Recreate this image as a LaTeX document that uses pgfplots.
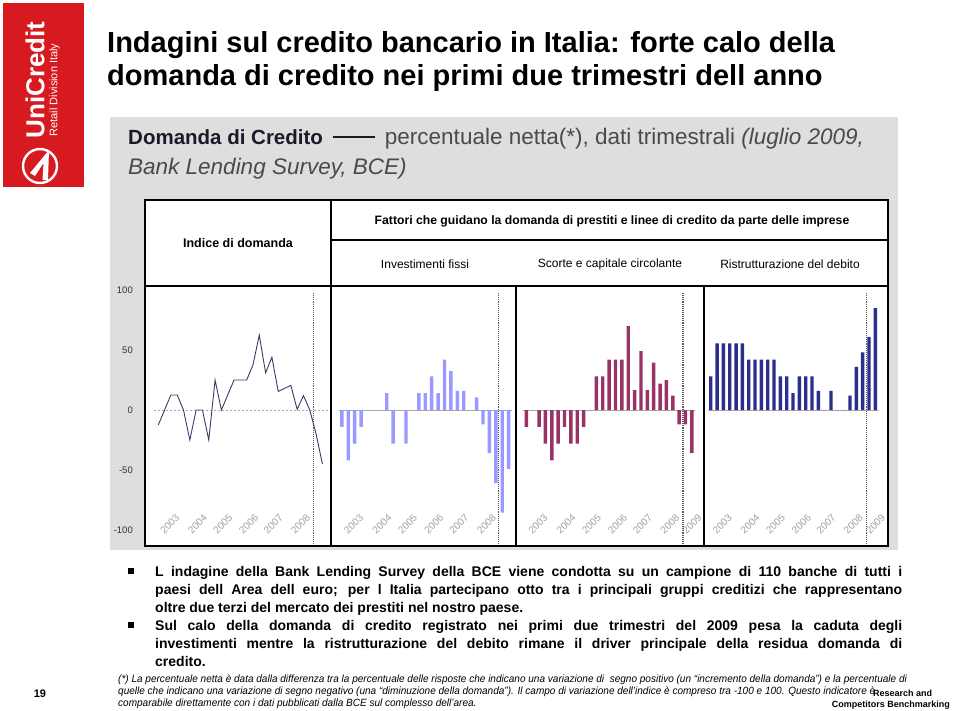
\documentclass[border=0pt]{standalone}
\usepackage{pgfplots}
\pgfplotsset{compat=1.18}
\usepackage{fontspec}
\setmainfont{Liberation Sans}
\usepackage{graphicx}
\definecolor{ucred}{HTML}{D71920}
\definecolor{bgrey}{HTML}{DEDEDE}
\definecolor{lineblue}{HTML}{3B3B6B}
\definecolor{barlight}{HTML}{9999FF}
\definecolor{barmaroon}{HTML}{993366}
\definecolor{barnavy}{HTML}{2B2E8C}
\definecolor{subdark}{HTML}{1A1A2A}
\definecolor{subgrey}{HTML}{4A4A4A}
\definecolor{yeargrey}{HTML}{A0A0A0}
\definecolor{zerogrey}{HTML}{A8A8A8}

\pgfplotsset{
  panel/.style={
    anchor=north west, scale only axis, height=229pt,
    ymin=-87.5, ymax=103.33, clip=false,
    axis line style={draw=none}, tick style={draw=none},
    ytick=\empty,
    xtick={3.2,7.6,11.6,15.7,19.6,23.9,27.4},
    xticklabels={2003,2004,2005,2006,2007,2008,2009},
    xticklabel style={rotate=45, anchor=east, font=\fontsize{10}{12}\selectfont, text=yeargrey, inner sep=1pt},
  },
  bars/.style={ybar, bar width=3.4pt, bar shift=0pt, draw=none, fill=#1},
}

\begin{document}
\begin{tikzpicture}
\path[use as bounding box] (0,0) rectangle (960pt,-710pt);
\begin{scope}[x=1pt,y=-1pt]
  % logo block
  \fill[ucred] (3,3) rectangle (84,187);
  \node[rotate=90, text=white, inner sep=0, font=\fontsize{26}{26}\selectfont\bfseries] at (35,80) {UniCredit};
  \node[rotate=90, text=white, inner sep=0, font=\fontsize{11}{11}\selectfont] at (54.5,90) {Retail Division Italy};
  \draw[white, line width=2.4pt] (40,166) circle (17);
  \fill[white] (30,173) -- (49,150) -- (48,180) -- (42.5,180) -- (43.5,163) -- (35,176) -- cycle;
  % title
  \node[anchor=base west, inner sep=0, font=\fontsize{29}{33}\selectfont\bfseries] at (107,52) {Indagini sul credito bancario in Italia: forte calo della};
  \node[anchor=base west, inner sep=0, font=\fontsize{29}{33}\selectfont\bfseries] at (107,85) {domanda di credito nei primi due trimestri dell anno};
  % grey background
  \fill[bgrey] (110,117) rectangle (898,550);
  \node[anchor=base west, inner sep=0, text=subdark] at (128,144)
    {\fontsize{20.5}{24}\selectfont{\bfseries Domanda di Credito}\hspace{10pt}\rule[0.3em]{42pt}{1.8pt}\hspace{10pt}\fontsize{22.5}{26}\selectfont\textcolor{subgrey}{percentuale netta(*), dati trimestrali \textit{(luglio 2009,}}};
  \node[anchor=base west, inner sep=0, font=\fontsize{22.5}{26}\selectfont\itshape, text=subgrey] at (128,174) {Bank Lending Survey, BCE)};
  % white table box
  \fill[white] (145,200) rectangle (888,546);
  % header texts
  \node[font=\fontsize{12.5}{14}\selectfont\bfseries] at (238,243) {Indice di domanda};
  \node[font=\fontsize{12.2}{14}\selectfont\bfseries] at (612,221) {Fattori che guidano la domanda di prestiti e linee di credito da parte delle imprese};
  \node[font=\fontsize{12}{14}\selectfont] at (425,264) {Investimenti fissi};
  \node[font=\fontsize{12}{14}\selectfont] at (610,264) {Scorte e capitale circolante};
  \node[font=\fontsize{12}{14}\selectfont] at (790,264) {Ristrutturazione del debito};
  % y labels
  \foreach \v/\yy in {100/290,50/350,0/410,-50/470,-100/530}
    \node[anchor=east, inner sep=0, font=\fontsize{9.5}{11}\selectfont, text=black!80] at (133,\yy) {\v};
\end{scope}

% ---------- panel 1: line
\begin{axis}[panel, at={(145pt,-286pt)}, width=186pt, xmin=-2.1, xmax=27.36]
  \draw[zerogrey, line width=0.7pt, dash pattern=on 2pt off 2pt] (axis cs:-0.6,0) -- (axis cs:27.36,0);
  \addplot[lineblue, line width=0.9pt, mark=none] coordinates {
    (0,-12.5) (1,0) (2,12.5) (3,12.5) (4,0) (5,-25) (6,0) (7,0) (8,-25) (9,25)
    (10,0) (11,12.5) (12,25) (13,25) (14,25) (15,37.5) (16,62.5) (17,31) (18,44) (19,15.5)
    (20,18) (21,20.5) (22,0.5) (23,12) (24,0) (25,-20) (26,-45)};
  \draw[black!65, line width=1.1pt, densely dotted] (axis cs:24.55,97.5) -- (axis cs:24.55,-112);
\end{axis}

% ---------- panel 2
\begin{axis}[panel, at={(331pt,-286pt)}, width=185pt, xmin=-1.69, xmax=27.14]
  \draw[zerogrey, line width=0.7pt] (axis cs:-0.5,0) -- (axis cs:26.5,0);
  \addplot[bars=barlight] coordinates {
    (0,-14) (1,-42) (2,-28) (3,-14) (4,0) (5,0) (6,0) (7,14) (8,-28) (9,0)
    (10,-28) (11,0) (12,14) (13,14) (14,28) (15,14) (16,42) (17,32.5) (18,16) (19,16)
    (20,0) (21,10.5) (22,-12) (23,-36) (24,-61) (25,-85.5) (26,-49)};
  \draw[black!65, line width=1.1pt, densely dotted] (axis cs:24.45,97.5) -- (axis cs:24.45,-112);
\end{axis}

% ---------- panel 3
\begin{axis}[panel, at={(516pt,-286pt)}, width=188pt, xmin=-1.62, xmax=27.9]
  \draw[zerogrey, line width=0.7pt] (axis cs:-0.5,0) -- (axis cs:26.5,0);
  \addplot[bars=barmaroon] coordinates {
    (0,-14) (1,0) (2,-14) (3,-28) (4,-42) (5,-28) (6,-14) (7,-28) (8,-28) (9,-14)
    (10,0) (11,28) (12,28) (13,42) (14,42) (15,42) (16,70) (17,16.5) (18,49) (19,16.5)
    (20,39.5) (21,22) (22,25) (23,12) (24,-12) (25,-12) (26,-36)};
  \draw[black!65, line width=1.1pt, densely dotted] (axis cs:24.6,97.5) -- (axis cs:24.6,-112);
\end{axis}

% ---------- panel 4
\begin{axis}[panel, at={(704pt,-286pt)}, width=184pt, xmin=-1.06, xmax=28.0]
  \draw[zerogrey, line width=0.7pt] (axis cs:-0.5,0) -- (axis cs:26.5,0);
  \addplot[bars=barnavy] coordinates {
    (0,28) (1,55.5) (2,55.5) (3,55.5) (4,55.5) (5,55.5) (6,42) (7,42) (8,42) (9,42)
    (10,42) (11,28) (12,28) (13,14) (14,28) (15,28) (16,28) (17,16) (18,0) (19,16)
    (20,0) (21,0) (22,12) (23,36) (24,48) (25,61) (26,85)};
  \draw[black!65, line width=1.1pt, densely dotted] (axis cs:24.6,97.5) -- (axis cs:24.6,-112);
\end{axis}

\begin{scope}[x=1pt,y=-1pt]
  % frame lines
  \draw[black, line width=2pt] (145,200) -- (888,200);
  \draw[black, line width=2pt] (145,286) -- (888,286);
  \draw[black, line width=1.4pt] (331,200) -- (331,546);
  \draw[black, line width=1.4pt] (331,240) -- (888,240);
  \draw[black, line width=1.4pt] (516,286) -- (516,546);
  \draw[black, line width=1.4pt] (704,286) -- (704,546);
  \draw[black, line width=1.2pt] (145,546) -- (888,546);
  \draw[black, line width=2.6pt] (145,199) -- (145,547);
  \draw[black, line width=2.6pt] (888,199) -- (888,547);
  % bullets
  \node[inner sep=0] at (131,571) {\rule{6pt}{6pt}};
  \node[inner sep=0] at (131,625) {\rule{6pt}{6pt}};
  \node[anchor=base west, inner sep=0] at (155,576) {\parbox[t]{747pt}{\fontsize{14}{18}\selectfont\bfseries
    \tolerance=10000\parindent=0pt
    L indagine della Bank Lending Survey della BCE viene condotta su un campione di 110 banche di tutti i\linebreak
    paesi dell Area dell euro; per l Italia partecipano otto tra i principali gruppi creditizi che rappresentano\linebreak
    oltre due terzi del mercato dei prestiti nel nostro paese.\par
    Sul calo della domanda di credito registrato nei primi due trimestri del 2009 pesa la caduta degli\linebreak
    investimenti mentre la ristrutturazione del debito rimane il driver principale della residua domanda di\linebreak
    credito.}};
  % footnote
  \node[anchor=base west, inner sep=0, font=\fontsize{10.5}{12}\selectfont\itshape] at (118,682)
    {\scalebox{0.955}[1]{(*) La percentuale netta è data dalla differenza tra la percentuale delle risposte che indicano una variazione di \ segno positivo (un “incremento della domanda”) e la percentuale di}};
  \node[anchor=base west, inner sep=0, font=\fontsize{10.5}{12}\selectfont\itshape] at (118,694)
    {\scalebox{0.955}[1]{quelle che indicano una variazione di segno negativo (una “diminuzione della domanda”). Il campo di variazione dell’indice è compreso tra -100 e 100. Questo indicatore è}};
  \node[anchor=base west, inner sep=0, font=\fontsize{10.5}{12}\selectfont\itshape] at (118,706)
    {\scalebox{0.955}[1]{comparabile direttamente con i dati pubblicati dalla BCE sul complesso dell’area.}};
  \node[anchor=base, inner sep=0, font=\fontsize{11}{12}\selectfont\bfseries] at (40,697) {19};
  \node[anchor=base west, inner sep=0, font=\fontsize{9}{10}\selectfont\bfseries] at (873,696) {Research and};
  \node[anchor=base east, inner sep=0, font=\fontsize{9}{10}\selectfont\bfseries] at (950,707) {Competitors Benchmarking};
\end{scope}
\end{tikzpicture}
\end{document}
